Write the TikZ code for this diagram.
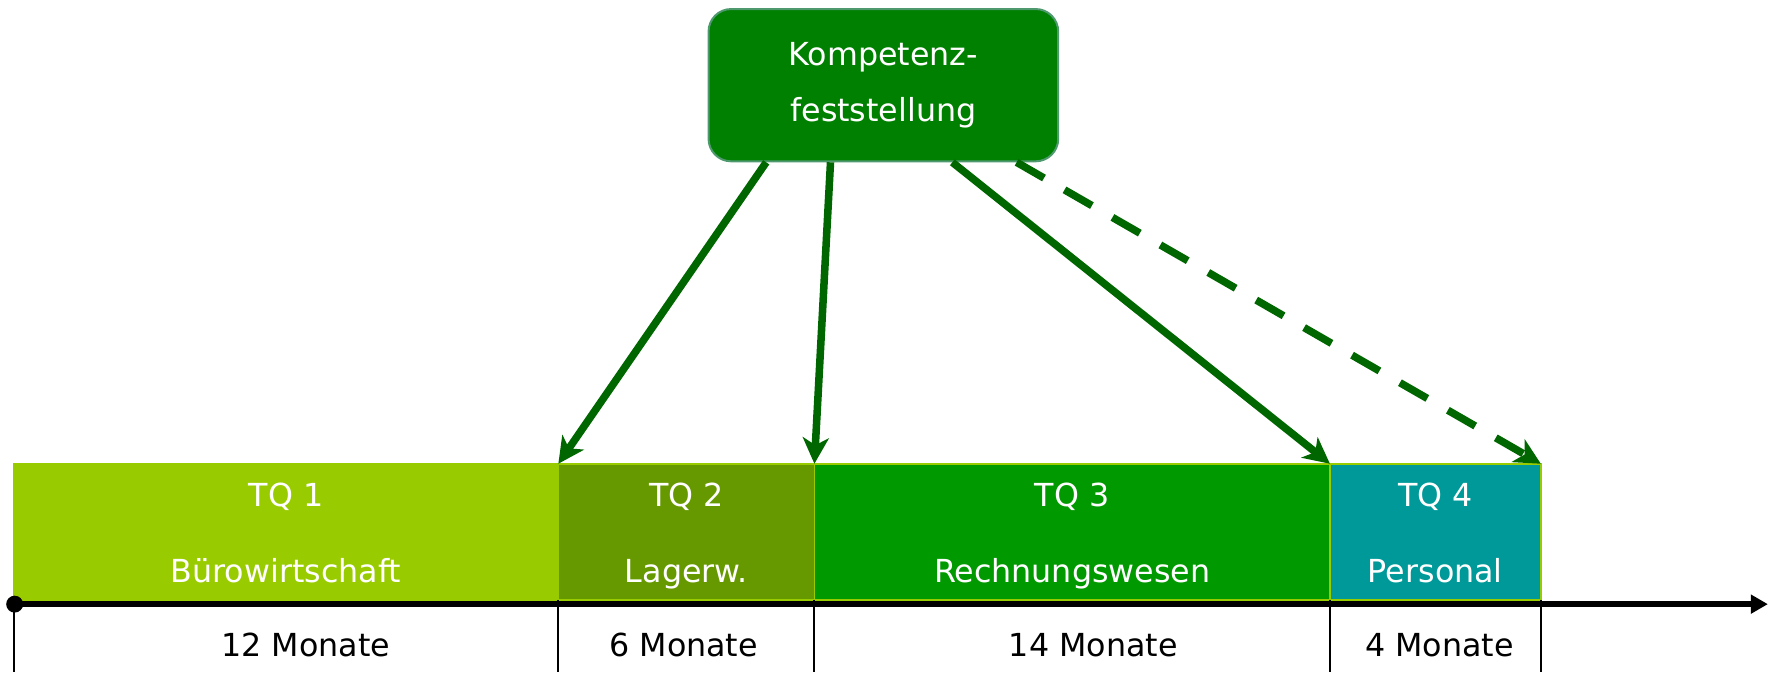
\documentclass[tikz,border=0pt]{standalone}
\usepackage{fontspec}
\setmainfont{DejaVu Sans}
\usetikzlibrary{arrows.meta,positioning}

\definecolor{tqone}{HTML}{99CC00}
\definecolor{tqtwo}{HTML}{669900}
\definecolor{tqthree}{HTML}{009900}
\definecolor{tqfour}{HTML}{009999}
\definecolor{kfgreen}{HTML}{008000}
\definecolor{kfedge}{HTML}{4E9A6E}
\definecolor{pfeilgruen}{HTML}{006600}

\tikzset{
  qbar/.style={draw=tqone, line width=0.8pt, minimum height=2.42cm, inner sep=0pt, outer sep=0pt, anchor=south west},
  qtext/.style={text=white, font=\fontsize{16}{19}\selectfont, anchor=base},
  months/.style={font=\fontsize{16}{19}\selectfont, anchor=base},
  pfeil/.style={draw=pfeilgruen, line width=3.8pt, -{Stealth[length=0.46cm, width=0.46cm, inset=0.13cm]}},
  tick/.style={line width=1pt}
}

\begin{document}
\begin{tikzpicture}[x=0.02cm, y=0.02cm]
\useasboundingbox (0,0) rectangle (1568,596);

%Kompetenzfeststellung
\node[draw=kfedge, fill=kfgreen, line width=1pt, rounded corners=0.4cm, minimum width=6.2cm, minimum height=2.7cm, text=white, align=center, font=\fontsize{16}{28.5}\selectfont] (komp) at (783,520.5) {Kompetenz-\\feststellung};

%drawing the bars
\node[qbar, fill=tqone, minimum width=9.66cm] (tq1) at (12,64) {};
\node[qbar, fill=tqtwo, minimum width=4.54cm, right=0pt of tq1] (tq2) {};
\node[qbar, fill=tqthree, minimum width=9.14cm, right=0pt of tq2] (tq3) {};
\node[qbar, fill=tqfour, minimum width=3.74cm, right=0pt of tq3] (tq4) {};

%bar texts
\node[qtext] (tq1a) at ([yshift=-0.76cm]tq1.north) {TQ 1};
\node[qtext] (tq1b) at ([yshift=-2.1cm]tq1.north) {Bürowirtschaft};
\node[qtext] (tq2a) at ([yshift=-0.76cm]tq2.north) {TQ 2};
\node[qtext] (tq2b) at ([yshift=-2.1cm]tq2.north) {Lagerw.};
\node[qtext] (tq3a) at ([yshift=-0.76cm]tq3.north) {TQ 3};
\node[qtext] (tq3b) at ([yshift=-2.1cm]tq3.north) {Rechnungswesen};
\node[qtext] (tq4a) at ([yshift=-0.76cm]tq4.north) {TQ 4};
\node[qtext] (tq4b) at ([yshift=-2.1cm]tq4.north) {Personal};

%time axis
\node[circle, fill=black, inner sep=0pt, minimum size=0.3cm] (nullpkt) at (13,60.5) {};
\coordinate (ende) at (1567,60.5);
\draw[line width=2.7pt, -{Triangle[length=0.3cm, width=0.32cm]}] (nullpkt.center) -- (ende);

%ticks
\draw[tick] (tq1.south west) -- +(0,-64);
\draw[tick] (tq2.south west) -- +(0,-64);
\draw[tick] (tq3.south west) -- +(0,-64);
\draw[tick] (tq4.south west) -- +(0,-64);
\draw[tick] (tq4.south east) -- +(0,-64);

%durations
\node[months] (m1) at (271,14) {12 Monate};
\node[months] (m2) at (606,14) {6 Monate};
\node[months] (m3) at (969,14) {14 Monate};
\node[months] (m4) at (1276,14) {4 Monate};

%arrows from the box
\draw[pfeil] ([xshift=1.04cm]komp.south west) -- (tq2.north west);
\draw[pfeil] ([xshift=2.18cm]komp.south west) -- (tq3.north west);
\draw[pfeil] ([xshift=4.34cm]komp.south west) -- (tq4.north west);
\draw[pfeil, dash pattern=on 0.56cm off 0.42cm] ([xshift=5.48cm]komp.south west) -- (tq4.north east);
\end{tikzpicture}
\end{document}
